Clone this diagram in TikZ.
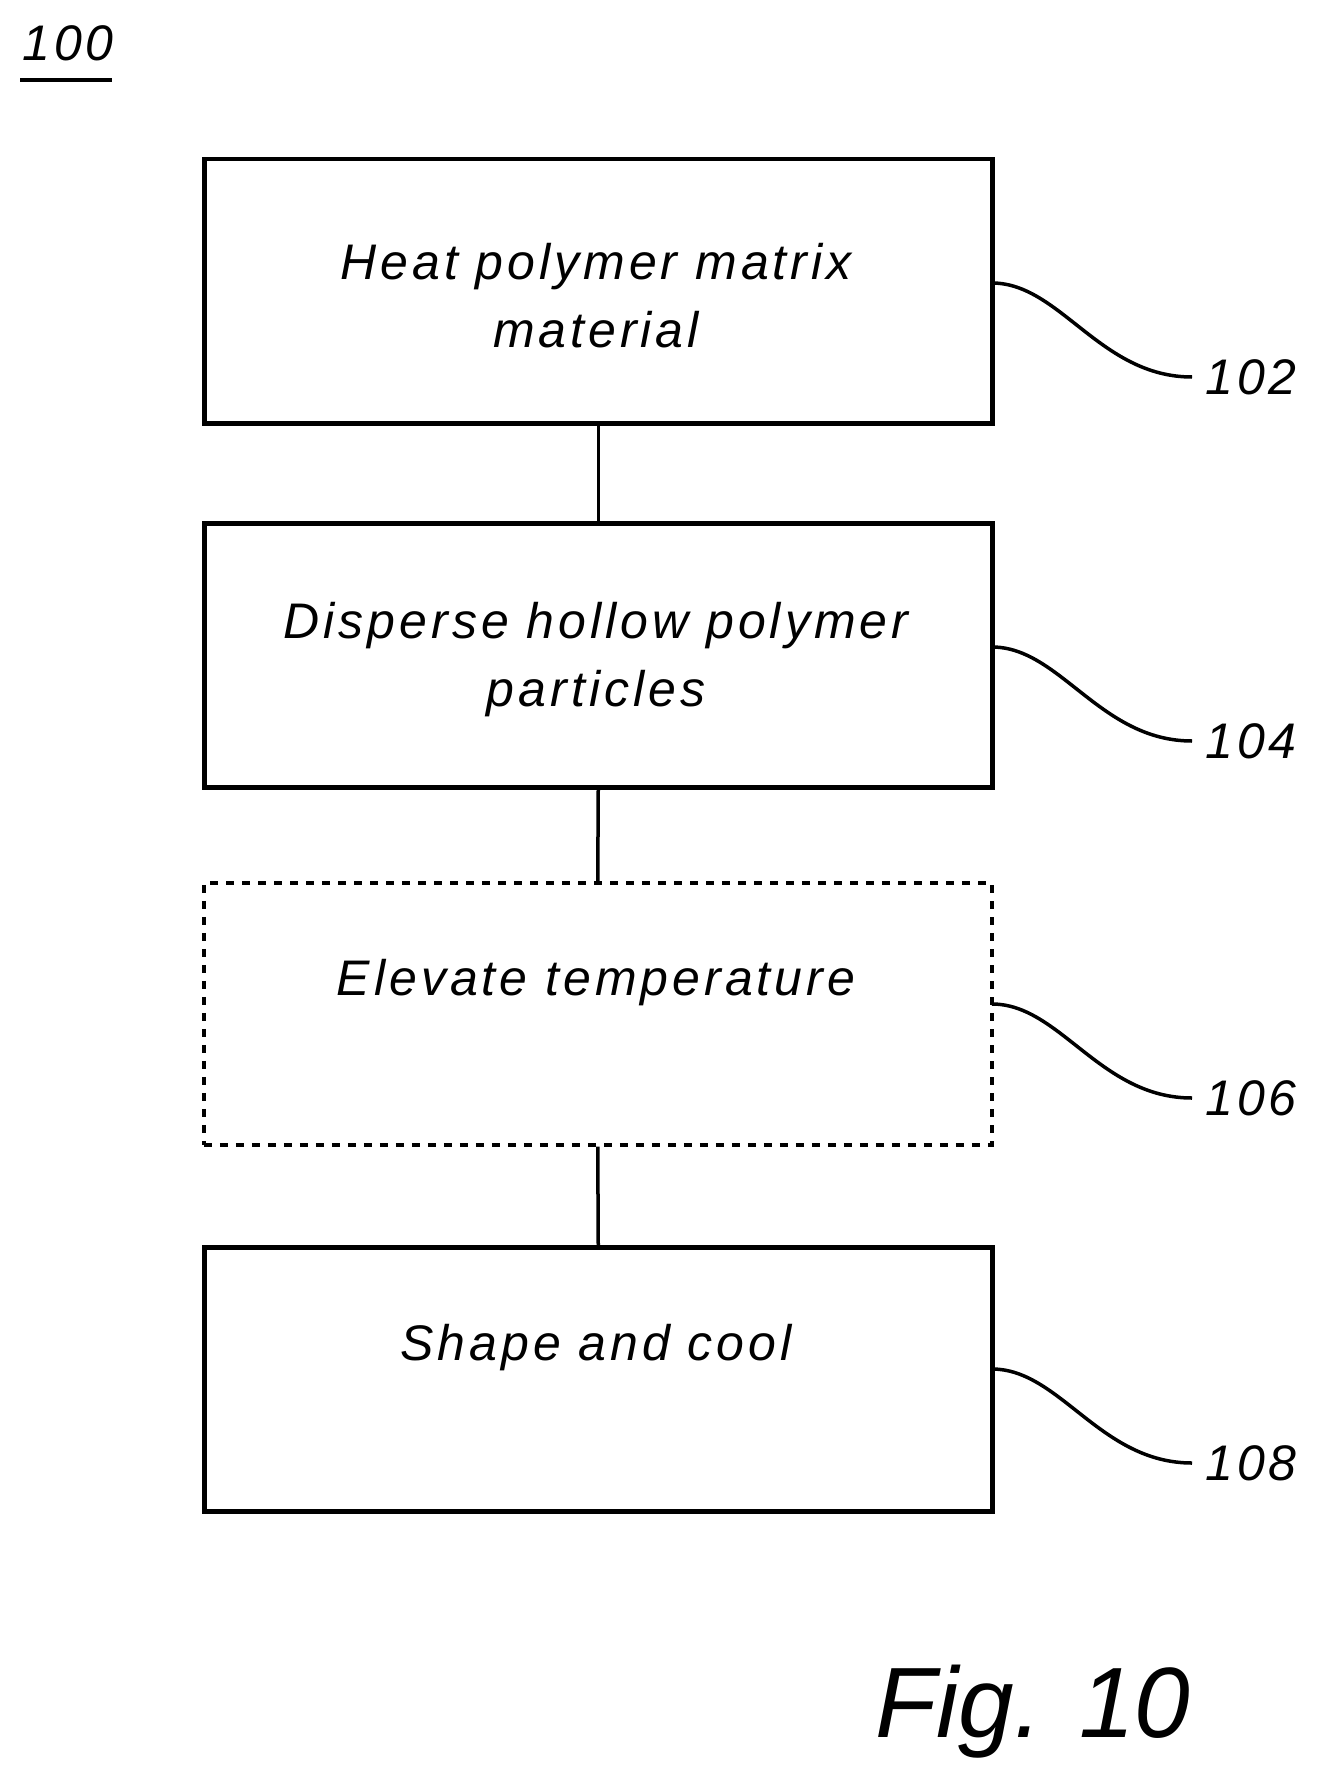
\documentclass[tikz,border=0pt]{standalone}
\usepackage{fontspec}
\setmainfont{Liberation Sans}
\newfontfamily\wide[LetterSpace=8]{Liberation Sans}
\begin{document}
\begin{tikzpicture}[x=1pt,y=-1pt,
  box/.style={draw,line width=4.5pt,minimum width=788pt,minimum height=264pt,anchor=north west,inner sep=0pt},
  txt/.style={font=\wide\fontsize{50}{68}\selectfont\itshape,align=center},
  lbl/.style={font=\wide\fontsize{50}{60}\selectfont\itshape,anchor=west,inner sep=0pt},
  lead/.style={line width=3.5pt}]
\useasboundingbox (0,0) rectangle (1322,1787);
\node[box] (b1) at (202,157) {};
\node[box] (b2) at (202,521) {};
\node[box,dash pattern=on 8pt off 8pt,line width=3.5pt,minimum height=262pt] (b3) at (202,881) {};
\node[box] (b4) at (202,1245) {};
\node[txt] (t1) at (596,296) {Heat polymer matrix\\material};
\node[txt] (t2) at (596,660) {Disperse hollow polymer\\particles};
\node[txt] (t3) at (596,983) {Elevate temperature};
\node[txt] (t4) at (596,1348) {Shape and cool};
\draw[line width=3.5pt] (b1.south) -- (b2.north);
\draw[line width=3.5pt] (b2.south) -- (b3.north);
\draw[line width=3.5pt] (b3.south) -- (b4.north);
\foreach \b/\y/\n in {b1/283/102,b2/647/104,b3/1004/106,b4/1369/108}{
  \node[lbl] (l\n) at (1205,\y+94) {\n};
  \coordinate (s\n) at (992,\y);
  \draw[lead] (s\n) .. controls (1060,\y) and (1100,\y+94) .. (1192,\y+94);
}
\node[font=\wide\fontsize{50}{60}\selectfont\itshape] (n100) at (68,43) {100};
\draw[line width=3.5pt] (20,80) -- (112,80);
\node[font=\fontsize{100}{120}\selectfont\itshape] (fig) at (1033,1712) {Fig. 10};
\end{tikzpicture}
\end{document}
